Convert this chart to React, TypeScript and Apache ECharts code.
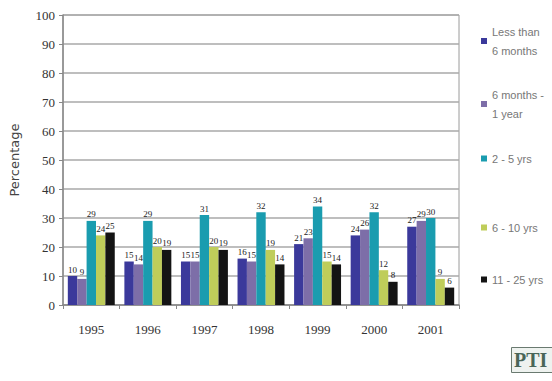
import React, { useEffect, useRef } from "react";
import * as echarts from "echarts";

const years = ["1995", "1996", "1997", "1998", "1999", "2000", "2001"];
const seriesNames = ["Less than\n6 months", "6 months -\n1 year", "2 - 5 yrs", "6 - 10 yrs", "11 - 25 yrs"];
const lessThan6Months = [10, 15, 15, 16, 21, 24, 27];
const sixMonthsTo1Year = [9, 14, 15, 15, 23, 26, 29];
const twoTo5Years = [29, 29, 31, 32, 34, 32, 30];
const sixTo10Years = [24, 20, 20, 19, 15, 12, 9];
const elevenTo25Years = [25, 19, 19, 14, 14, 8, 6];
const colors = ["#3b399b", "#7d6ea8", "#1a9caf", "#bfcd5a", "#141414"];
const legendTops = [17, 80, 144, 213, 265];

export default function App() {
  const ref = useRef<HTMLDivElement>(null);
  useEffect(() => {
    document.body.style.margin = "0";
    const chart = echarts.init(ref.current!, null, { renderer: "svg" });
    const allData = [lessThan6Months, sixMonthsTo1Year, twoTo5Years, sixTo10Years, elevenTo25Years];
    chart.setOption({
      animation: false,
      backgroundColor: "#ffffff",
      grid: {
        left: 62,
        right: 93,
        top: 15,
        bottom: 76,
        show: true,
        borderColor: "#9a9a9a",
        borderWidth: 1,
      },
      legend: seriesNames.map((n, i) => ({
        data: [n],
        orient: "vertical",
        left: 476,
        top: legendTops[i],
        itemWidth: 6,
        itemHeight: 6,
        icon: "rect",
        itemGap: 4,
        textStyle: {
          color: "#777777",
          fontFamily: "Liberation Sans",
          fontSize: 11,
          lineHeight: 19,
        },
      })),
      xAxis: {
        type: "category",
        data: years,
        axisLine: { lineStyle: { color: "#888888", width: 1.5 } },
        axisTick: { show: true, length: 4, lineStyle: { color: "#888888" } },
        axisLabel: {
          fontFamily: "Liberation Serif",
          fontSize: 13,
          color: "#333333",
          margin: 18,
        },
      },
      yAxis: {
        type: "value",
        min: 0,
        max: 100,
        interval: 10,
        name: "Percentage",
        nameLocation: "middle",
        nameGap: 42,
        nameTextStyle: {
          fontFamily: "DejaVu Sans",
          fontSize: 13,
          color: "#444444",
        },
        axisLine: { show: true, lineStyle: { color: "#888888", width: 1.5 } },
        axisTick: { show: true, length: 4, lineStyle: { color: "#888888" } },
        axisLabel: {
          fontFamily: "Liberation Serif",
          fontSize: 13,
          color: "#333333",
          margin: 8,
        },
        splitLine: { lineStyle: { color: "#a8a8a8", width: 1.5 } },
      },
      series: seriesNames.map((n, i) => ({
        name: n,
        type: "bar",
        data: allData[i],
        barGap: "0%",
        barCategoryGap: "17%",
        itemStyle: { color: colors[i] },
        label: {
          show: true,
          position: "top",
          distance: 2,
          fontFamily: "Liberation Serif",
          fontSize: 9,
          color: "#222222",
        },
      })),
      graphic: [
        {
          type: "rect",
          left: 511,
          top: 347,
          shape: { width: 50, height: 25 },
          style: { fill: "#eef2ef", stroke: "#6a7a70", lineWidth: 1 },
        },
        {
          type: "text",
          left: 514,
          top: 350,
          style: {
            text: "PTI",
            fontFamily: "Liberation Serif",
            fontWeight: "bold",
            fontSize: 20,
            fill: "#4a6658",
          },
        },
      ],
    });
    return () => chart.dispose();
  }, []);
  return <div ref={ref} style={{ width: 552, height: 381 }} />;
}
